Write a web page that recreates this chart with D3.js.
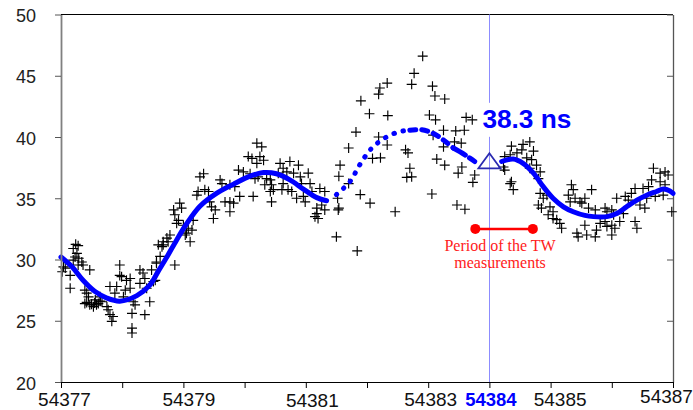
<!DOCTYPE html>
<html>
<head>
<meta charset="utf-8">
<script src="https://cdn.jsdelivr.net/npm/d3@7"></script>
<style>
body { margin: 0; background: #fff; }
svg { display: block; font-family: "Liberation Sans", Arial, sans-serif; }
</style>
</head>
<body>
<svg id="chart" width="693" height="410"></svg>
<script>
// ---- data (MJD given as day offset from mjdBase, values in ns) ----
var mjdBase = 54377;
var xTicks = [54377, 54378, 54379, 54380, 54381, 54382, 54383, 54384, 54385, 54386, 54387];
var xLabels = [54377, 54379, 54381, 54383, 54384, 54385, 54387];
var yTicks = [20, 25, 30, 35, 40, 45, 50];

var markMjd = 54384;
var markNs = 38.3;
var markLabel = "38.3 ns";
var twPeriod = [54383.77, 54384.71];
var twLevel = 32.5;
var twText = ["Period of the TW", "measurements"];

// smoothed fit, solid part before the gap
var fitLeftDay = [0, 0.18, 0.36, 0.55, 0.75, 0.96, 1.24, 1.45, 1.59, 1.73, 1.89, 2.05, 2.27, 2.54, 2.82, 3.09, 3.31, 3.52, 3.74, 3.96, 4.18, 4.34];
var fitLeftNs = [30.2, 29.4, 28.3, 27.4, 26.85, 26.6, 27.05, 27.9, 29.05, 30.2, 31.6, 32.9, 34.35, 35.4, 36.15, 36.8, 37.1, 37.0, 36.5, 35.75, 35.05, 34.8];
// dotted part (sparse data)
var fitGapDay = [4.50, 4.72, 4.89, 5.08, 5.32, 5.54, 5.70, 5.89, 6.08, 6.25, 6.41, 6.60, 6.76];
var fitGapNs = [35.3, 36.35, 37.8, 39.1, 40.0, 40.45, 40.55, 40.6, 40.3, 39.75, 39.1, 38.55, 38.0];
// solid part after the mark
var fitRightDay = [7.20, 7.39, 7.55, 7.72, 7.88, 8.04, 8.21, 8.37, 8.56, 8.70, 8.92, 9.08, 9.24, 9.41, 9.57, 9.73, 9.84, 9.95, 10.0];
var fitRightNs = [38.0, 38.2, 37.85, 37.05, 35.95, 35.0, 34.3, 33.9, 33.6, 33.5, 33.5, 33.75, 34.3, 34.85, 35.25, 35.55, 35.75, 35.6, 35.4];

// individual measurements [day offset, ns]
var obs = [
  [0.24,31.24],[0.28,31.13],[0.20,30.9],[0.26,30.5],[0.23,30.2],[0.29,30.1],[0.20,29.95],[0.34,29.8],[0.28,29.55],[0.36,29.55],
  [0.47,29.15],[0.04,29.4],[0.07,29.3],[0.02,29.0],[0.15,28.7],[0.15,27.65],[0.39,27.5],[0.42,27.25],[0.45,26.95],[0.39,26.4],
  [0.47,26.3],[0.53,26.15],[0.58,26.3],[0.61,26.4],[0.67,26.55],[0.56,26.7],[0.64,26.95],[0.75,26.15],[0.77,25.9],[0.80,25.5],
  [0.85,25.35],[0.83,24.95],[0.80,27.8],[0.91,27.8],[0.88,27.25],[0.96,29.55],[0.96,28.7],[0.99,28.6],[1.07,28.3],[1.13,28.45],
  [1.05,27.5],[1.02,26.95],[1.13,27.65],[1.18,26.55],[1.21,26.3],[1.16,25.6],[1.16,24.4],[1.16,24.0],[1.37,25.5],[1.29,29.15],
  [1.34,28.9],[1.37,28.45],[1.29,28.05],[1.40,27.65],[1.45,26.55],[1.48,29.15],[1.51,28.2],[1.54,28.3],[1.56,29.8],[1.59,31.2],
  [1.65,31.05],[1.67,31.45],[0.42,26.5],[0.50,26.35],[0.55,26.45],[0.64,26.6],
  [3.20,39.5],[3.06,38.4],[3.12,38.25],[3.20,37.85],[2.90,37.3],[2.98,37.15],[3.09,37.0],[3.17,36.6],[3.14,35.15],[2.60,36.5],
  [2.63,36.2],[2.76,36.1],[2.84,35.95],[2.92,35.15],[2.33,37.0],[2.27,36.75],[2.35,35.7],[2.24,35.55],[2.22,35.25],[2.41,35.55],
  [2.43,34.7],[2.68,34.7],[2.76,34.7],[2.82,34.6],[2.46,34.3],[2.52,34.05],[2.49,33.35],[2.76,33.9],[1.94,34.6],[1.97,34.2],
  [1.86,33.65],[1.92,33.2],[1.89,32.95],[2.00,32.8],[2.08,32.55],[2.16,33.2],[2.14,32.4],[2.11,31.45],[2.03,32.0],[2.05,32.15],
  [1.73,31.75],[1.75,31.45],[1.67,31.2],[1.78,32.0],[1.62,30.25],[1.56,29.7],[1.86,29.55],[1.84,34.05],
  [3.28,39.2],[3.25,38.4],[3.31,38.1],[3.22,36.75],[3.36,36.6],[3.42,36.5],[3.33,36.1],[3.44,36.1],[3.42,35.55],[3.47,35.7],
  [3.44,34.7],[3.58,37.85],[3.74,38.0],[3.63,37.45],[3.55,37.05],[3.69,37.15],[3.80,37.05],[3.88,37.7],[4.04,37.05],[3.91,36.75],
  [3.93,36.2],[4.07,36.2],[3.63,36.2],[3.61,35.7],[3.71,35.7],[3.77,35.55],[3.85,35.0],[3.96,35.15],[3.99,34.7],[4.10,35.55],
  [4.23,35.8],[4.31,35.55],[4.26,34.45],[4.31,34.05],[4.18,34.2],[4.15,33.5],[4.20,33.35],[4.18,33.75],[4.53,34.05],[4.50,31.85],
  [5.91,46.6],[5.77,45.2],[5.73,44.3],[6.07,44.15],[5.33,44.4],[5.21,44.0],[5.19,43.5],[6.11,43.35],[6.27,43.1],[4.90,42.95],
  [5.04,41.9],[5.34,41.75],[6.02,41.8],[6.12,41.4],[6.62,41.6],[6.72,41.4],[4.82,40.4],[5.19,40.0],[5.33,39.35],[6.25,40.55],
  [6.45,40.5],[6.59,40.55],[6.08,40.15],[6.25,39.2],[6.43,39.6],[6.54,39.5],[4.70,39.1],[5.63,38.95],[5.67,38.7],[5.22,38.3],
  [5.09,38.25],[6.14,38.2],[6.27,37.7],[4.56,37.7],[4.54,36.8],[5.70,37.45],[5.65,36.7],[5.73,36.75],[6.55,37.55],[6.49,37.05],
  [6.76,36.9],[6.73,36.3],[4.70,36.2],[4.89,35.3],[6.06,35.35],[4.52,35.0],[5.05,34.6],[6.47,34.45],[6.60,34.1],[5.46,33.9],
  [4.54,34.2],[4.84,30.7],
  [7.36,39.25],[7.55,39.4],[7.66,39.6],[7.53,38.95],[7.45,38.7],[7.34,38.55],[7.25,38.4],[7.72,38.85],[7.61,38.3],[7.69,38.15],
  [7.77,37.7],[7.66,37.45],[7.83,37.15],[7.80,36.6],[7.25,37.3],[7.23,37.55],[7.36,36.35],[7.39,35.7],[7.83,35.4],[7.88,35.0],
  [7.94,35.25],[7.80,34.45],[7.85,34.2],[7.99,34.3],[8.04,33.9],[7.96,33.65],[8.10,33.25],[8.15,32.95],[8.18,32.55],[8.04,33.35],
  [8.34,36.1],[8.37,35.7],[8.29,35.25],[8.40,35.0],[8.48,34.7],[8.32,34.7],[8.43,32.15],[8.45,31.85],[7.34,36.2],
  [9.68,37.45],[9.79,37.05],[9.87,37.15],[9.92,36.9],[9.65,36.5],[9.79,36.35],[9.87,36.1],[9.60,35.95],[9.51,35.8],[9.71,35.15],
  [9.84,35.25],[9.57,35.0],[9.38,35.8],[9.32,35.4],[9.22,35.15],[9.27,34.85],[9.46,34.45],[9.54,34.2],[9.38,33.1],[9.41,32.55],
  [9.98,33.9],[8.67,35.7],[8.56,35.0],[8.51,34.6],[8.62,34.2],[8.73,34.05],[8.89,34.2],[8.92,33.9],[9.00,34.05],[9.03,33.65],
  [8.89,33.1],[8.92,32.7],[9.00,32.8],[9.05,32.55],[8.81,32.95],[8.75,32.4],[8.73,31.85],[8.59,32.0],[9.00,32.0],[8.56,32.8],
  [9.13,33.1],[9.19,33.75],[9.08,35.0]
];

// ---- layout ----
var plot = { left: 61, right: 673, top: 14.5, bottom: 382 };
// small nudges of the x labels as they sit in the original
var labelNudge = { 54377: [3, 0], 54379: [5, 0], 54381: [6, 1], 54383: [2, 0], 54384: [1, 0], 54385: [9, 0], 54387: [-7, -3] };

var svg = d3.select("#chart");

var x = d3.scaleLinear().domain([54377, 54387]).range([plot.left, plot.right]);
var y = d3.scaleLinear().domain([20, 50]).range([plot.bottom, plot.top]);

// frame: top line black, right line dark grey
svg.append("line")
    .attr("x1", plot.left).attr("x2", plot.right)
    .attr("y1", plot.top).attr("y2", plot.top)
    .attr("stroke", "#000").attr("stroke-width", 1);

var rightAxis = svg.append("g")
    .attr("transform", "translate(" + plot.right + ",0)")
    .call(d3.axisRight(y).tickValues(yTicks).tickSize(-6).tickSizeOuter(0).tickFormat(""));
rightAxis.select(".domain").attr("stroke", "#555").attr("stroke-width", 1.3);
rightAxis.selectAll(".tick line").attr("stroke", "#555");

// vertical marker line at MJD 54384 (snapped to a pixel so it stays blue)
var vx = Math.floor(x(markMjd)) + 0.5;
svg.append("line")
    .attr("x1", vx).attr("x2", vx)
    .attr("y1", plot.top).attr("y2", plot.bottom)
    .attr("stroke", "#8c8cff").attr("stroke-width", 1);

// measurements as "+"
svg.append("g").selectAll("path.obs")
    .data(obs)
    .enter()
    .append("path")
    .attr("class", "obs")
    .attr("d", "M-5,0H5M0,-5V5")
    .attr("transform", function (d) {
        return "translate(" + x(mjdBase + d[0]) + "," + y(d[1]) + ")";
    })
    .attr("fill", "none")
    .attr("stroke", "#000")
    .attr("stroke-width", 1.15);

// fit curve
var line = d3.line()
    .x(function (d) { return x(mjdBase + d[0]); })
    .y(function (d) { return y(d[1]); })
    .curve(d3.curveCatmullRom);

function pairs(days, vals) {
    return days.map(function (d, i) { return [d, vals[i]]; });
}

function drawFit(data, dash) {
    svg.append("path")
        .datum(data)
        .attr("d", line)
        .attr("fill", "none")
        .attr("stroke", "#0000ff")
        .attr("stroke-width", 5)
        .attr("stroke-linecap", "round")
        .attr("stroke-dasharray", dash || null);
}

drawFit(pairs(fitLeftDay, fitLeftNs));
var gap = pairs(fitGapDay, fitGapNs);
drawFit(gap.slice(0, 7), "0.5,9");
drawFit(gap.slice(6, 11), "6,6");
drawFit(gap.slice(10), "14,5");
drawFit(pairs(fitRightDay, fitRightNs));

// triangle mark
var mx = x(markMjd), my = y(markNs);
svg.append("path")
    .attr("d", "M" + mx + "," + (my - 4.5) + "L" + (mx + 11) + "," + (my + 10.5) + "L" + (mx - 11) + "," + (my + 10.5) + "Z")
    .attr("fill", "none")
    .attr("stroke", "#2a2ab0")
    .attr("stroke-width", 1.8);

// label with white box hiding the marker line
svg.append("rect")
    .attr("x", mx - 10).attr("y", my - 55)
    .attr("width", 100).attr("height", 34)
    .attr("fill", "#fff");
svg.append("text")
    .attr("x", mx - 7).attr("y", my - 30)
    .attr("fill", "#0000ff")
    .attr("font-weight", "bold")
    .attr("font-size", 25)
    .attr("textLength", 89)
    .attr("lengthAdjust", "spacingAndGlyphs")
    .text(markLabel);

// TW period bar
svg.append("line")
    .attr("x1", x(twPeriod[0])).attr("x2", x(twPeriod[1]))
    .attr("y1", y(twLevel)).attr("y2", y(twLevel))
    .attr("stroke", "#ff0000").attr("stroke-width", 2.5);
svg.selectAll("circle.tw")
    .data(twPeriod)
    .enter()
    .append("circle")
    .attr("class", "tw")
    .attr("cx", function (d) { return x(d); })
    .attr("cy", y(twLevel))
    .attr("r", 5)
    .attr("fill", "#ff0000");
svg.selectAll("text.tw")
    .data(twText)
    .enter()
    .append("text")
    .attr("class", "tw")
    .attr("x", (x(twPeriod[0]) + x(twPeriod[1])) / 2 - 4)
    .attr("y", function (d, i) { return y(twLevel) + 22 + i * 17; })
    .attr("text-anchor", "middle")
    .attr("font-family", "'Liberation Serif', 'Times New Roman', serif")
    .attr("font-size", 16)
    .attr("fill", "#ff2020")
    .text(function (d) { return d; });

// left axis (grey)
var leftAxis = svg.append("g")
    .attr("transform", "translate(" + plot.left + ",0)")
    .call(d3.axisLeft(y).tickValues(yTicks).tickSize(6).tickSizeOuter(0).tickPadding(19));
leftAxis.select(".domain").attr("stroke", "#808080").attr("stroke-width", 1.8);
leftAxis.selectAll(".tick line").attr("stroke", "#555");
leftAxis.selectAll(".tick text")
    .attr("font-size", 18)
    .attr("font-family", "'Liberation Sans', Arial, sans-serif")
    .attr("fill", "#222")
    .attr("dy", "0.4em");

// bottom axis
var bottomAxis = svg.append("g")
    .attr("transform", "translate(0," + plot.bottom + ")")
    .call(d3.axisBottom(x).tickValues(xTicks).tickSize(6).tickSizeOuter(0)
        .tickFormat(function (d) { return xLabels.indexOf(d) >= 0 ? d : ""; }));
bottomAxis.select(".domain").attr("stroke", "#000");
bottomAxis.selectAll(".tick line").attr("stroke", "#000");
bottomAxis.selectAll(".tick text")
    .attr("font-family", "'Liberation Sans', Arial, sans-serif")
    .attr("y", 11)
    .attr("dy", "0.71em")
    .attr("dx", function (d) { return labelNudge[d] ? labelNudge[d][0] : 0; })
    .attr("transform", function (d) { return labelNudge[d] ? "translate(0," + labelNudge[d][1] + ")" : null; })
    .attr("font-weight", function (d) { return d === markMjd ? "bold" : null; })
    .attr("fill", function (d) { return d === markMjd ? "#0000ff" : "#111"; })
    .attr("font-size", function (d) { return d === markMjd ? 18.5 : 19; });
</script>
</body>
</html>
